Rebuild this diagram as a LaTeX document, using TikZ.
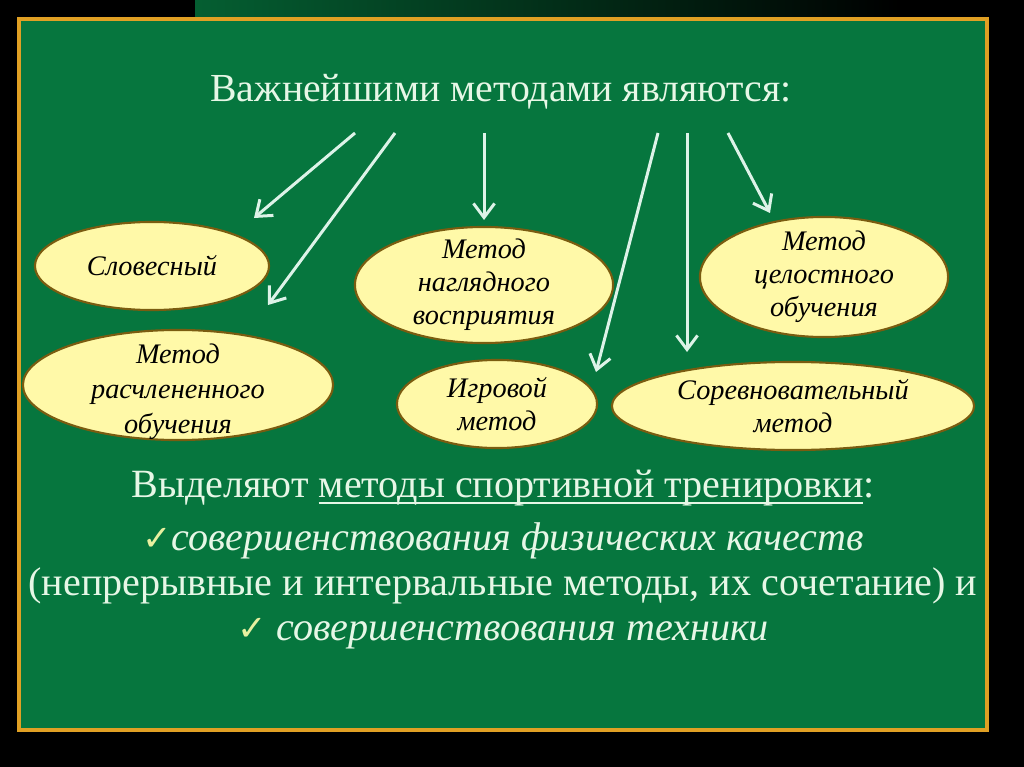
\documentclass[tikz,border=0pt]{standalone}
\usepackage{fontspec}
\setmainfont{Liberation Serif}
\newfontfamily\symfont{DejaVu Sans}
\usetikzlibrary{positioning}
\usetikzlibrary{shapes.geometric}
\usetikzlibrary{arrows.meta}
\pgfdeclarelayer{background}
\pgfdeclarelayer{nodelayer}
\pgfdeclarelayer{edgelayer}
\pgfsetlayers{background,nodelayer,edgelayer,main}
\definecolor{board}{RGB}{6,118,62}
\definecolor{rim}{RGB}{224,160,36}
\definecolor{chalk}{RGB}{230,247,230}
\definecolor{mint}{RGB}{221,243,232}
\definecolor{cream}{RGB}{255,249,168}
\definecolor{umber}{RGB}{122,92,16}
\definecolor{tick}{RGB}{232,240,160}
\newsavebox{\ulbox}
\newcommand{\ulline}[1]{\sbox\ulbox{#1}\rlap{\rule[-2pt]{\wd\ulbox}{0.55pt}}\usebox\ulbox}
\tikzset{
    none/.style = {inner sep=0pt},
    method/.style = {ellipse, draw=umber, line width=0.6pt, fill=cream, inner sep=0pt},
    mtext/.style = {align=center, text=black, font=\fontsize{8.05}{9.4}\selectfont\itshape},
    heading/.style = {anchor=base, text=chalk, font=\fontsize{11.3}{13}\selectfont},
    body/.style = {anchor=base, text=chalk, font=\fontsize{11.4}{13}\selectfont},
    pointer/.style = {draw=mint, line width=0.85pt, -{Straight Barb[length=4pt,width=6pt]}}
}

\begin{document}
\begin{tikzpicture}[x=0.01cm, y=-0.01cm]
  \useasboundingbox (0,0) rectangle (1024,767);
  \begin{pgfonlayer}{background}
    \fill [black] (0,0) rectangle (1024,767);
    \shade [top color=black, middle color=board!55!black, bottom color=black] (0,0) rectangle (18,767);
    \shade [left color=board!80!black, right color=black] (195,0) rectangle (900,17);
    \draw [fill=board, draw=rim, line width=1.2pt] (19,19) rectangle (987,730);
  \end{pgfonlayer}
  \begin{pgfonlayer}{nodelayer}
    \node [method, minimum width=2.34cm, minimum height=0.88cm, label={[mtext]center:Словесный}] (0) at (152,266) {};
    \node [method, minimum width=3.10cm, minimum height=1.10cm, label={[mtext, font=\fontsize{8.05}{10}\selectfont\itshape, yshift=-2pt]center:Метод\\расчлененного\\обучения}] (1) at (178,385) {};
    \node [method, minimum width=2.58cm, minimum height=1.16cm, label={[mtext]center:Метод\\наглядного\\восприятия}] (2) at (484,285) {};
    \node [method, minimum width=2.00cm, minimum height=0.88cm, label={[mtext]center:Игровой\\метод}] (3) at (497,404) {};
    \node [method, minimum width=2.48cm, minimum height=1.20cm, label={[mtext]center:Метод\\целостного\\обучения}] (4) at (824,277) {};
    \node [method, minimum width=3.62cm, minimum height=0.88cm, label={[mtext]center:Соревновательный\\метод}] (5) at (793,406) {};
    \node [style=none] (10) at (355,133) {};
    \node [style=none] (11) at (254,218) {};
    \node [style=none] (12) at (395,133) {};
    \node [style=none] (13) at (268,305) {};
    \node [style=none] (14) at (484,133) {};
    \node [style=none] (15) at (484,220) {};
    \node [style=none] (16) at (658,133) {};
    \node [style=none] (17) at (596,372) {};
    \node [style=none] (18) at (687,133) {};
    \node [style=none] (19) at (687,352) {};
    \node [style=none] (20) at (728,133) {};
    \node [style=none] (21) at (770,213) {};
  \end{pgfonlayer}
  \begin{pgfonlayer}{edgelayer}
    \draw [style=pointer] (10.center) to (11.center);
    \draw [style=pointer] (12.center) to (13.center);
    \draw [style=pointer] (14.center) to (15.center);
    \draw [style=pointer] (16.center) to (17.center);
    \draw [style=pointer] (18.center) to (19.center);
    \draw [style=pointer] (20.center) to (21.center);
  \end{pgfonlayer}
  \node [heading] (30) at (501,102) {Важнейшими методами являются:};
  \node [body] (31) at (503,497) {Выделяют \ulline{методы спортивной тренировки}:};
  \node [body] (32) at (503,550) {{\symfont\color{tick}\fontsize{10}{12}\selectfont ✓}\textit{совершенствования физических качеств}};
  \node [body] (33) at (503,595) {(непрерывные и интервальные методы, их сочетание) и};
  \node [body] (34) at (503,640) {{\symfont\color{tick}\fontsize{10}{12}\selectfont ✓} \textit{совершенствования техники}};
\end{tikzpicture}
\end{document}
